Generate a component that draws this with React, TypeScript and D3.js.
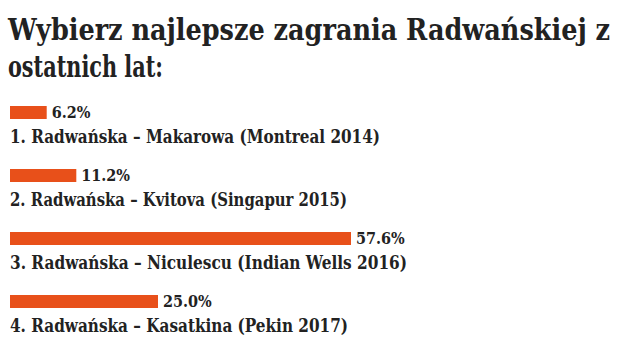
import React from "react";
import * as d3 from "d3";

const titleLines = ["Wybierz najlepsze zagrania Radwańskiej z", "ostatnich lat:"];
const categories = [
  "1. Radwańska – Makarowa (Montreal 2014)",
  "2. Radwańska – Kvitova (Singapur 2015)",
  "3. Radwańska – Niculescu (Indian Wells 2016)",
  "4. Radwańska – Kasatkina (Pekin 2017)",
];
const values = [6.2, 11.2, 57.6, 25.0];

const W = 631;
const H = 356;
const FONT = "'DejaVu Serif Condensed', 'DejaVu Serif', serif";
const ORANGE = "#e8501a";
const TEXT = "#222222";

export default function App() {
  const x = d3.scaleLinear().domain([0, 100]).range([10, 602]);
  const y = d3
    .scalePoint<string>()
    .domain(categories)
    .range([106, 106 + 63 * 3]);
  const titleWidths = [602, 155];
  const labelWidths = [370, 337, 397, 338];
  return (
    <svg
      width={W}
      height={H}
      style={{ position: "absolute", left: 0, top: 0, background: "#fff" }}
    >
      {titleLines.map((t, i) => (
        <text
          key={t}
          x={8}
          y={40 + i * 37}
          fontFamily={FONT}
          fontWeight="bold"
          fontSize={29}
          fill={TEXT}
          textLength={titleWidths[i]}
          lengthAdjust="spacingAndGlyphs"
        >
          {t}
        </text>
      ))}
      {categories.map((c, i) => {
        const top = y(c)!;
        const x1 = x(values[i]);
        return (
          <g key={c}>
            <rect x={x(0)} y={top} width={x1 - x(0)} height={13} fill={ORANGE} />
            <text
              x={x1 + 5}
              y={top + 12}
              fontFamily={FONT}
              fontWeight="bold"
              fontSize={16}
              fill={TEXT}
            >
              {values[i].toFixed(1)}%
            </text>
            <text
              x={10}
              y={top + 37}
              fontFamily={FONT}
              fontWeight="bold"
              fontSize={18}
              fill={TEXT}
              textLength={labelWidths[i]}
              lengthAdjust="spacingAndGlyphs"
            >
              {c}
            </text>
          </g>
        );
      })}
    </svg>
  );
}
